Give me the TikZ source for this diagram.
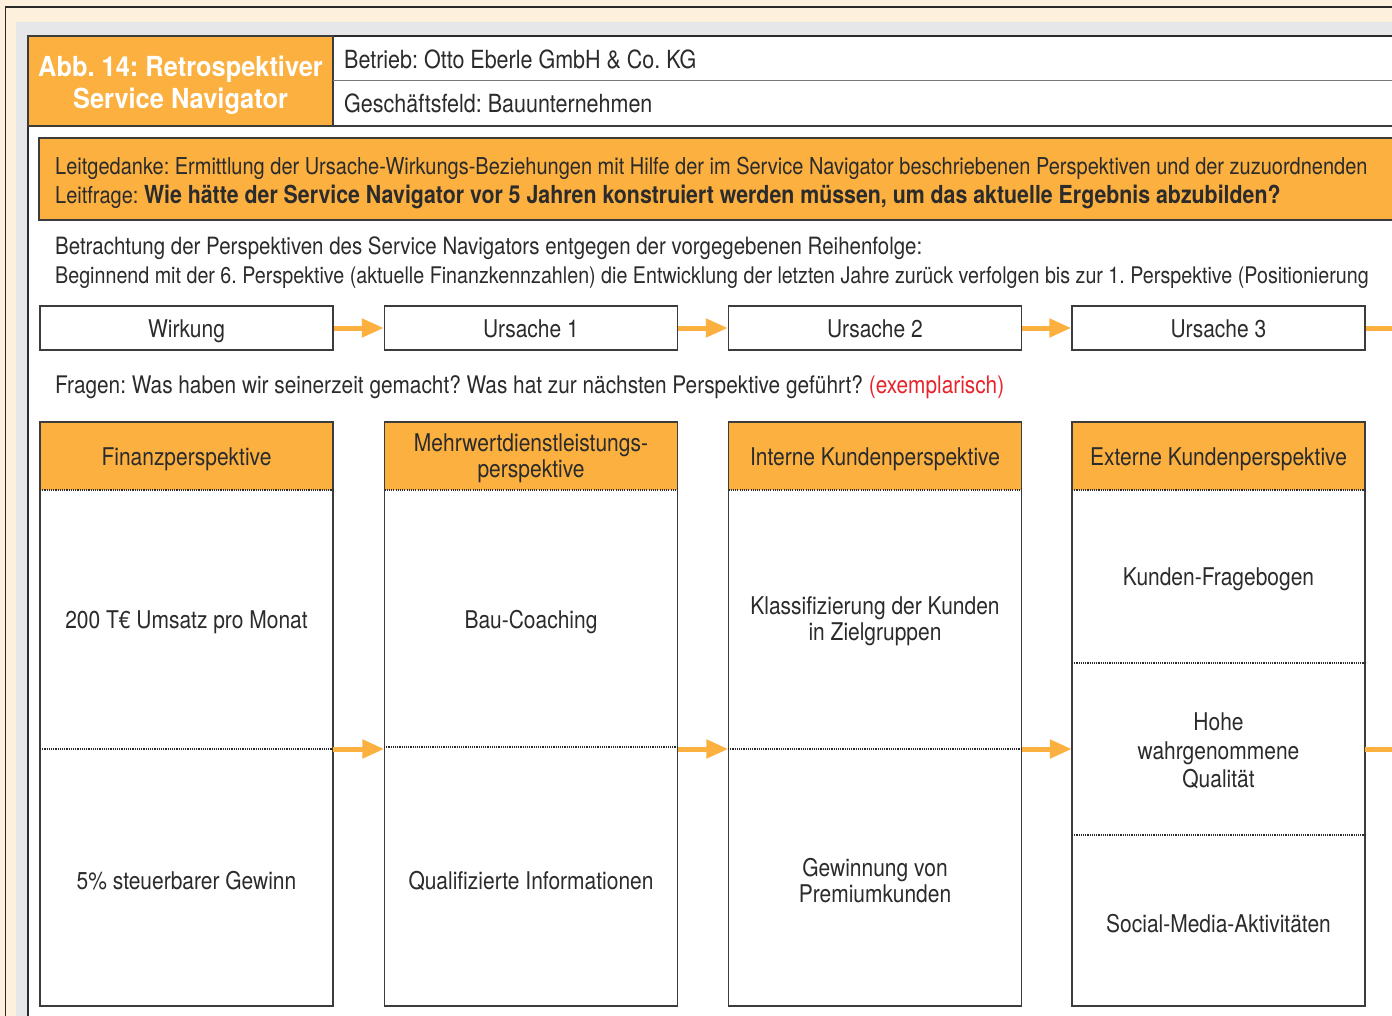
\documentclass[tikz,border=0pt]{standalone}
\usepackage{fontspec}
\setmainfont[FakeStretch=0.86]{TeX Gyre Heros}
\newfontfamily\titlefont[FakeStretch=0.92]{TeX Gyre Heros}
\usetikzlibrary{arrows.meta}
\definecolor{cream}{HTML}{FDF0DC}
\definecolor{panelgray}{HTML}{E6E7E8}
\definecolor{navorange}{HTML}{FBB040}
\definecolor{ink}{HTML}{2B2B2B}
\definecolor{frame}{HTML}{3C3C3C}
\definecolor{exred}{HTML}{E8232A}
\newcommand{\fs}[2]{\fontsize{#1}{#2}\selectfont}
\tikzset{
  body/.style={font=\fs{24.4}{26}, text=ink},
  plain/.style={text=ink, inner sep=0pt, anchor=base west},
  rowbox/.style={draw=frame, line width=1.4pt, fill=white, minimum width=293pt, minimum height=44pt,
                 inner sep=0pt, body, text height=18.3pt, text depth=0pt},
  colhead/.style={fill=navorange, minimum width=293pt, minimum height=68pt, inner sep=0pt},
  colbody/.style={minimum width=293pt, minimum height=516pt, inner sep=0pt},
  cell/.style={body, align=center, inner sep=0pt},
  sep/.style={draw=ink, line width=1.1pt, dash pattern=on 1.1pt off 1.1pt},
  flow/.style={draw=navorange, line width=5pt, -{Triangle[length=22pt,width=18pt]}},
  flowout/.style={draw=navorange, line width=5pt},
}
\begin{document}
\frenchspacing
\begin{tikzpicture}[x=1pt, y=-1pt]
\useasboundingbox (0,0) rectangle (1392,1016);
\clip (0,0) rectangle (1392,1016);
% background layers
\fill[cream] (0,0) rectangle (1392,1016);
\draw[ink, line width=1.3pt, fill=cream] (5.5,7) rectangle (1420,1040);
\fill[panelgray] (16,22) rectangle (1420,1040);
\draw[ink, line width=1.4pt, fill=white] (28,36) rectangle (1420,1040);

% header
\node[fill=navorange, draw=frame, line width=1.4pt, minimum width=305pt, minimum height=90pt, inner sep=0pt]
  (title) at (180.5,81) {};
\node[text=white, align=center, font=\titlefont\fs{27.6}{32}\bfseries, inner sep=0pt] (titletext) at (180.5,85)
  {Abb. 14: Retrospektiver\\Service Navigator};
\draw[frame!70, line width=1pt] (333,81) -- (1420,81);
\draw[frame, line width=1.6pt] (28,126) -- (1420,126);
\node[plain, font=\fs{25}{24}] (firm) at (344,68.5) {Betrieb: Otto Eberle GmbH \& Co. KG};
\node[plain, font=\fs{25}{24}] (field) at (344,112.5) {Geschäftsfeld: Bauunternehmen};

% guiding idea
\draw[frame, line width=1.4pt, fill=navorange] (39,138) rectangle (1420,220);
\node[plain, font=\fs{23.25}{24}] (idea) at (55,174.5)
  {Leitgedanke: Ermittlung der Ursache-Wirkungs-Beziehungen mit Hilfe der im Service Navigator beschriebenen Perspektiven und der zuzuordnenden};
\node[plain, font=\fs{23.25}{24}] (question) at (55,204)
  {Leitfrage: {\fs{24.8}{24}\bfseries Wie hätte der Service Navigator vor 5 Jahren konstruiert werden müssen, um das aktuelle Ergebnis abzubilden?}};

\node[plain, font=\fs{23.8}{24}] (note1) at (55,254.5)
  {Betrachtung der Perspektiven des Service Navigators entgegen der vorgegebenen Reihenfolge:};
\node[plain, font=\fs{22.9}{24}] (note2) at (55,283.5)
  {Beginnend mit der 6. Perspektive (aktuelle Finanzkennzahlen) die Entwicklung der letzten Jahre zurück verfolgen bis zur 1. Perspektive (Positionierung};

% cause/effect chain
\node[rowbox] (w)  at (186.5,328) {Wirkung};
\node[rowbox] (u1) at (531,328) {Ursache 1};
\node[rowbox] (u2) at (875,328) {Ursache 2};
\node[rowbox] (u3) at (1218.5,328) {Ursache 3};
\coordinate (rowout) at (1400,328);
\draw[flow] (w.east) -- (u1.west);
\draw[flow] (u1.east) -- (u2.west);
\draw[flow] (u2.east) -- (u3.west);
\draw[flowout] (u3.east) -- (rowout);

\node[plain, font=\fs{24.2}{24}] (ask) at (55,393)
  {Fragen: Was haben wir seinerzeit gemacht? Was hat zur nächsten Perspektive geführt? \textcolor{exred}{(exemplarisch)}};

% perspective columns: orange heads, outlines, separators
\node[colhead] (h1) at (186.5,456) {};
\node[colhead] (h2) at (531,456) {};
\node[colhead] (h3) at (875,456) {};
\node[colhead] (h4) at (1218.5,456) {};
\foreach \cx in {186.5, 531, 875, 1218.5}{
  \draw[frame, line width=1.4pt] (\cx-146.5,422) rectangle (\cx+146.5,1006);
  \draw[sep] (\cx-146.5,490) -- (\cx+146.5,490);
}
\node[cell] (t1) at (186.5,459.5) {Finanzperspektive};
\node[cell] (t2) at (531,458.5) {Mehrwertdienstleistungs-\\perspektive};
\node[cell] (t3) at (875,459.5) {Interne Kundenperspektive};
\node[cell] (t4) at (1218.5,459.5) {Externe Kundenperspektive};
\node[colbody] (b1) at (186.5,748) {};
\node[colbody] (b2) at (531,748) {};
\node[colbody] (b3) at (875,748) {};
\node[colbody] (b4) at (1218.5,748) {};

\draw[sep] (40,749) -- (333,749);
\draw[sep] (384,747) -- (678,747);
\draw[sep] (728,749) -- (1022,749);
\draw[sep] (1072,663) -- (1365,663);
\draw[sep] (1072,835) -- (1365,835);

% cell texts
\node[cell] (c11) at (186.5,622) {200 T€ Umsatz pro Monat};
\node[cell] (c12) at (186.5,881) {5\% steuerbarer Gewinn};
\node[cell] (c21) at (531,622) {Bau-Coaching};
\node[cell] (c22) at (531,881) {Qualifizierte Informationen};
\node[cell] (c31) at (875,621.5) {Klassifizierung der Kunden\\in Zielgruppen};
\node[cell] (c32) at (875,880.5) {Gewinnung von\\Premiumkunden};
\node[cell] (c41) at (1218.5,579) {Kunden-Fragebogen};
\node[cell, font=\fs{24.4}{28.5}] (c42) at (1218.5,751) {Hohe\\wahrgenommene\\Qualität};
\node[cell] (c43) at (1218.5,924) {Social-Media-Aktivitäten};

% links between columns
\coordinate (colout) at (1400,749);
\draw[flow] ([yshift=-1pt]b1.east) -- ([yshift=-1pt]b2.west);
\draw[flow] ([yshift=-1pt]b2.east) -- ([yshift=-1pt]b3.west);
\draw[flow] ([yshift=-1pt]b3.east) -- ([yshift=-1pt]b4.west);
\draw[flowout] ([yshift=-1pt]b4.east) -- (colout);
\end{tikzpicture}
\end{document}
